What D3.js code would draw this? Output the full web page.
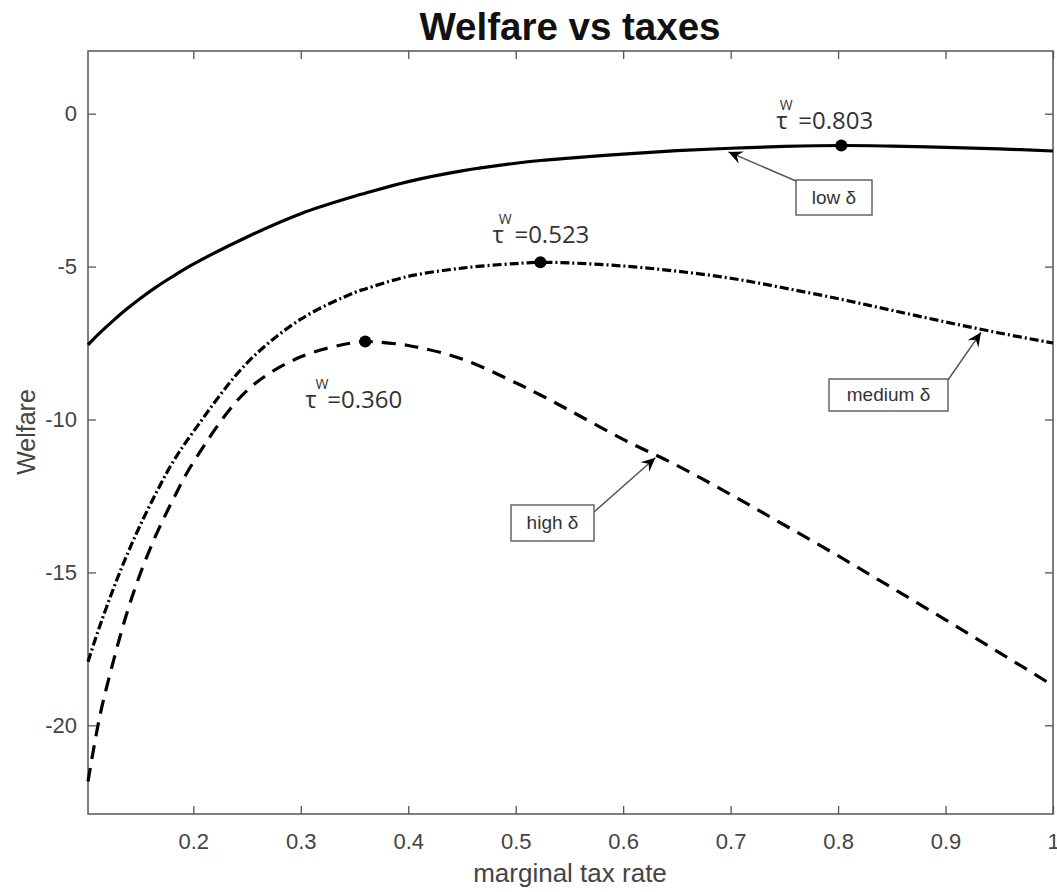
<html>
<head>
  <script src="https://d3js.org/d3.v7.min.js"></script>
  <style>
    body { margin: 0; background: #fff; }
    text { font-family: "Liberation Sans", Arial, sans-serif; }
  </style>
</head>
<body>
  <svg id="chart" width="1057" height="892"></svg>
  <script>
    // marginal tax rate grid
    const taxRate = [0.102, 0.113, 0.126, 0.138, 0.15, 0.165, 0.18, 0.2, 0.25, 0.3, 0.35, 0.36, 0.4, 0.45,
      0.5, 0.523, 0.55, 0.6, 0.65, 0.7, 0.75, 0.803, 0.85, 0.9, 0.95, 1.0];
    // welfare for each delta
    const lowDelta = [-7.56, -7.17, -6.75, -6.39, -6.06, -5.68, -5.34, -4.92, -4.03, -3.27, -2.7, -2.6, -2.22, -1.87,
      -1.62, -1.53, -1.45, -1.32, -1.21, -1.13, -1.07, -1.04, -1.06, -1.1, -1.15, -1.22];
    const mediumDelta = [-17.92, -16.75, -15.5, -14.45, -13.5, -12.43, -11.45, -10.4, -8.15, -6.72, -5.85, -5.73, -5.32, -5.05,
      -4.9, -4.86, -4.88, -4.98, -5.15, -5.38, -5.7, -6.07, -6.43, -6.81, -7.17, -7.5];
    const highDelta = [-21.84, -19.7, -17.85, -16.35, -15.1, -13.8, -12.7, -11.4, -9.05, -7.95, -7.48, -7.45, -7.58, -8.02,
      -8.8, -9.2, -9.7, -10.65, -11.5, -12.45, -13.45, -14.52, -15.5, -16.55, -17.62, -18.7];

    const seriesNames = ["low", "medium", "high"];
    const optimumTax = [0.803, 0.523, 0.360];
    const optimumWelfare = [-1.04, -4.86, -7.45];
    const arrowTipX = [0.698, 0.933, 0.630];
    const arrowTipY = [-1.25, -7.15, -11.25];

    const xTicks = [0.2, 0.3, 0.4, 0.5, 0.6, 0.7, 0.8, 0.9, 1];
    const yTicks = [0, -5, -10, -15, -20];

    const svg = d3.select("#chart");
    const margin = { left: 88, top: 51, right: 1053, bottom: 814 };

    const x = d3.scaleLinear().domain([0.102, 1]).range([margin.left, margin.right]);
    const y = d3.scaleLinear().domain([-22.9, 2.05]).range([margin.bottom, margin.top]);

    const axisColor = "#555";
    const textColor = "#444";

    // axes box
    svg.append("rect")
      .attr("x", margin.left).attr("y", margin.top)
      .attr("width", margin.right - margin.left).attr("height", margin.bottom - margin.top)
      .attr("fill", "none").attr("stroke", axisColor).attr("stroke-width", 1.5);

    const tickLen = 8;
    function styleAxis(g) {
      g.select(".domain").remove();
      g.selectAll(".tick line").attr("stroke", axisColor).attr("stroke-width", 1.3);
      g.selectAll(".tick text").attr("fill", textColor).style("font-size", "22px")
        .style("font-family", "'Liberation Sans', Arial, sans-serif");
    }

    svg.append("g").attr("transform", `translate(0,${margin.bottom})`)
      .call(d3.axisBottom(x).tickValues(xTicks).tickFormat(d => String(d)).tickSizeInner(-tickLen).tickPadding(19))
      .call(styleAxis);
    svg.append("g").attr("transform", `translate(0,${margin.top})`)
      .call(d3.axisTop(x).tickValues(xTicks).tickFormat("").tickSizeInner(-tickLen))
      .call(styleAxis);
    svg.append("g").attr("transform", `translate(${margin.left},0)`)
      .call(d3.axisLeft(y).tickValues(yTicks).tickFormat(d => String(d)).tickSizeInner(-tickLen).tickPadding(11))
      .call(styleAxis);
    svg.append("g").attr("transform", `translate(${margin.right},0)`)
      .call(d3.axisRight(y).tickValues(yTicks).tickFormat("").tickSizeInner(-tickLen))
      .call(styleAxis);

    // title and labels
    svg.append("text").attr("x", 570).attr("y", 40).attr("text-anchor", "middle")
      .style("font-size", "38.5px").style("font-weight", "bold").attr("fill", "#111")
      .text("Welfare vs taxes");
    svg.append("text").attr("x", 570).attr("y", 882).attr("text-anchor", "middle")
      .style("font-size", "26px").attr("fill", textColor)
      .text("marginal tax rate");
    svg.append("text").attr("transform", "translate(35,432) rotate(-90)").attr("text-anchor", "middle")
      .style("font-size", "25px").attr("fill", textColor)
      .text("Welfare");

    // curves
    const data = [lowDelta, mediumDelta, highDelta].map(vals => taxRate.map((t, i) => [t, vals[i]]));
    const dashes = [null, "9,3,2,3", "14,9"];
    const line = d3.line().x(d => x(d[0])).y(d => y(d[1])).curve(d3.curveCatmullRom.alpha(0.5));

    svg.append("g").selectAll("path").data(data).join("path")
      .attr("d", line)
      .attr("fill", "none")
      .attr("stroke", "#000")
      .attr("stroke-width", 3.2)
      .attr("stroke-dasharray", (d, i) => dashes[i]);

    // optimum markers
    svg.append("g").selectAll("circle").data(optimumTax).join("circle")
      .attr("cx", d => x(d))
      .attr("cy", (d, i) => y(optimumWelfare[i]))
      .attr("r", 6)
      .attr("fill", "#000");

    // tau^W labels (pixel offsets from the marker)
    const labelOffset = [[-65, -16], [-48, -19], [-60, 66]];
    const supShift = [3, 6, 10];
    const labels = svg.append("g").selectAll("text").data(optimumTax).join("text")
      .attr("x", (d, i) => x(d) + labelOffset[i][0])
      .attr("y", (d, i) => y(optimumWelfare[i]) + labelOffset[i][1])
      .style("font-family", "'Open Sans', sans-serif")
      .style("font-size", "24px")
      .attr("fill", "#333");
    labels.append("tspan").text("τ");
    labels.append("tspan")
      .attr("dx", (d, i) => supShift[i] - 11).attr("dy", -19)
      .style("font-size", "14px").text("W");
    labels.append("tspan")
      .attr("x", (d, i) => x(d) + labelOffset[i][0] + 22).attr("dy", 19)
      .text(d => "=" + d.toFixed(3));

    // arrows with text boxes
    const defs = svg.append("defs");
    defs.append("marker").attr("id", "head")
      .attr("viewBox", "-15 -7 17 14").attr("refX", 0).attr("refY", 0)
      .attr("markerWidth", 17).attr("markerHeight", 14)
      .attr("markerUnits", "userSpaceOnUse").attr("orient", "auto")
      .append("path").attr("d", "M0,0 L-14,-6.5 L-9,0 L-14,6.5 Z").attr("fill", "#000");

    const boxes = [
      { x: 796, y: 180, w: 76, h: 35, tailX: 796, tailY: 181 },
      { x: 829, y: 379, w: 119, h: 32, tailX: 948, tailY: 380 },
      { x: 511, y: 505, w: 83, h: 36, tailX: 594, tailY: 512 }
    ];

    svg.append("g").selectAll("line").data(boxes).join("line")
      .attr("x1", d => d.tailX).attr("y1", d => d.tailY)
      .attr("x2", (d, i) => x(arrowTipX[i])).attr("y2", (d, i) => y(arrowTipY[i]))
      .attr("stroke", "#555").attr("stroke-width", 1.5)
      .attr("marker-end", "url(#head)");

    const boxG = svg.append("g").selectAll("g").data(boxes).join("g");
    boxG.append("rect")
      .attr("x", d => d.x).attr("y", d => d.y).attr("width", d => d.w).attr("height", d => d.h)
      .attr("fill", "#fff").attr("stroke", "#666").attr("stroke-width", 1.5);
    boxG.append("text")
      .attr("x", d => d.x + d.w / 2).attr("y", d => d.y + d.h / 2 + 6)
      .attr("text-anchor", "middle")
      .style("font-size", "19px").attr("fill", "#333")
      .text((d, i) => seriesNames[i] + " δ");
  </script>
</body>
</html>
